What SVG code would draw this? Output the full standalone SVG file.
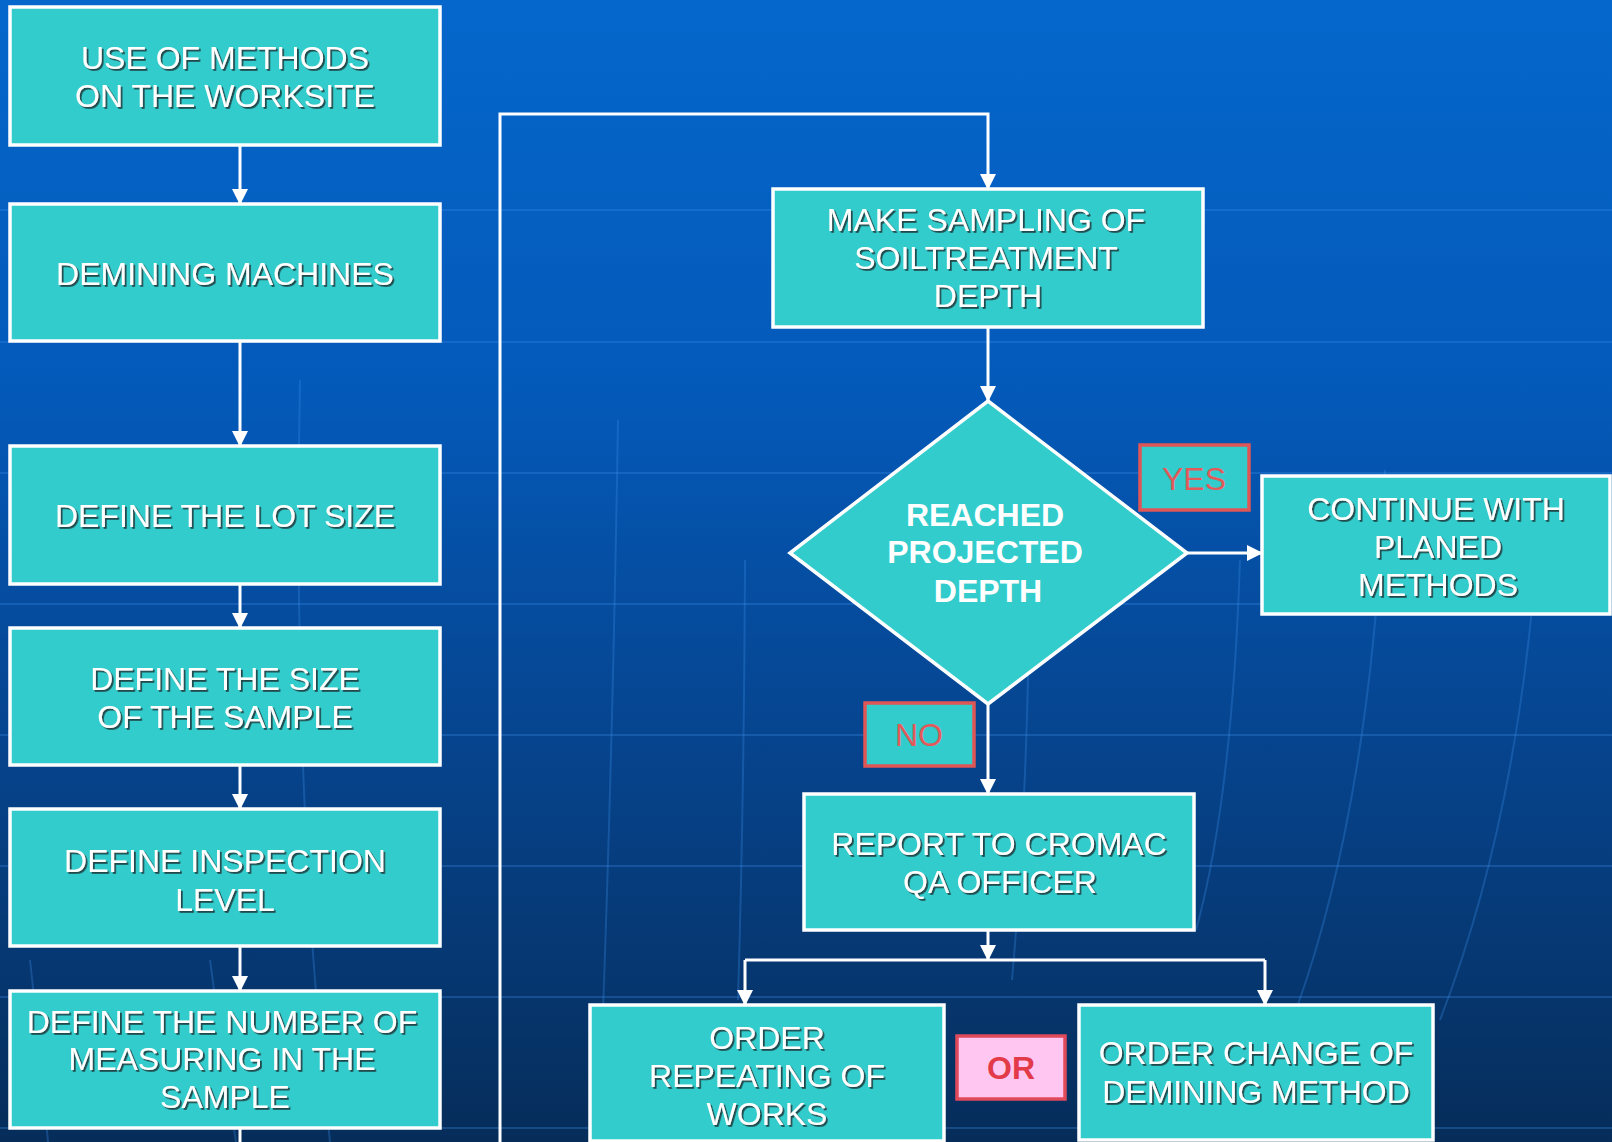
<svg xmlns="http://www.w3.org/2000/svg" width="1612" height="1142" viewBox="0 0 1612 1142">
<defs>
<linearGradient id="bg" x1="0" y1="0" x2="0" y2="1">
<stop offset="0" stop-color="#0567cc"/>
<stop offset="0.35" stop-color="#0459b8"/>
<stop offset="0.65" stop-color="#06448e"/>
<stop offset="1" stop-color="#062d5a"/>
</linearGradient>
<filter id="sh" x="-10%" y="-30%" width="120%" height="160%">
<feDropShadow dx="1.8" dy="1.8" stdDeviation="0.4" flood-color="#1e3a3c" flood-opacity="0.9"/>
</filter>
<marker id="ah" markerUnits="userSpaceOnUse" markerWidth="16" markerHeight="16" viewBox="0 0 16 16" refX="15" refY="8" orient="auto">
<path d="M0,0 L16,8 L0,16 Z" fill="#ffffff"/>
</marker>
<style>
.box{fill:#33cccc;stroke:#ffffff;stroke-width:3.5}
.tag{fill:#33cccc;stroke:#e05555;stroke-width:3.5}
.tagor{fill:#ffc6f2;stroke:#e04a5a;stroke-width:3.5}
.t{font-family:"Liberation Sans",Arial,sans-serif;font-size:32px;fill:#ffffff;text-anchor:middle;filter:url(#sh)}
.tb{font-family:"Liberation Sans",Arial,sans-serif;font-size:32px;font-weight:bold;fill:#ffffff;text-anchor:middle}
.tr{font-family:"Liberation Sans",Arial,sans-serif;font-size:32px;fill:#e35a5a;text-anchor:middle}
.trb{font-family:"Liberation Sans",Arial,sans-serif;font-size:32px;font-weight:bold;fill:#e23a48;text-anchor:middle}
.c{fill:none;stroke:#ffffff;stroke-width:3}
.g{fill:none;stroke:#3a8ee8;stroke-width:2;opacity:0.3}
</style>
</defs>
<rect x="0" y="0" width="1612" height="1142" fill="url(#bg)"/>
<g id="background-grid">
<path class="g" d="M0,210 H1612 M0,342 H1612 M0,473 H1612 M0,604 H1612 M0,735 H1612 M0,866 H1612 M0,997 H1612 M0,1128 H1612"/>
<path class="g" d="M300,380 Q292,800 330,1142"/>
<path class="g" d="M618,420 Q612,800 598,1142"/>
<path class="g" d="M745,560 Q744,800 738,1000"/>
<path class="g" d="M1030,560 Q1028,800 1012,980"/>
<path class="g" d="M1240,560 Q1232,800 1196,930"/>
<path class="g" d="M1385,470 Q1372,800 1296,1010"/>
<path class="g" d="M1540,500 Q1525,800 1440,1020"/>
<path class="g" d="M30,960 Q40,1050 48,1142 M210,960 Q222,1050 236,1142"/>
</g>
<g id="connectors">
<line class="c" x1="240" y1="145" x2="240" y2="204" marker-end="url(#ah)"/>
<line class="c" x1="240" y1="341" x2="240" y2="446" marker-end="url(#ah)"/>
<line class="c" x1="240" y1="584" x2="240" y2="628" marker-end="url(#ah)"/>
<line class="c" x1="240" y1="765" x2="240" y2="809" marker-end="url(#ah)"/>
<line class="c" x1="240" y1="946" x2="240" y2="991" marker-end="url(#ah)"/>
<line class="c" x1="240" y1="1128" x2="240" y2="1142"/>
<path class="c" d="M500,1142 V114 H988 V189" marker-end="url(#ah)"/>
<line class="c" x1="988" y1="327" x2="988" y2="401" marker-end="url(#ah)"/>
<line class="c" x1="1187" y1="553" x2="1262" y2="553" marker-end="url(#ah)"/>
<line class="c" x1="988" y1="704" x2="988" y2="794" marker-end="url(#ah)"/>
<line class="c" x1="988" y1="930" x2="988" y2="960" marker-end="url(#ah)"/>
<line class="c" x1="745" y1="960" x2="1265" y2="960"/>
<line class="c" x1="745" y1="960" x2="745" y2="1005" marker-end="url(#ah)"/>
<line class="c" x1="1265" y1="960" x2="1265" y2="1005" marker-end="url(#ah)"/>
</g>
<g id="n1"><rect class="box" x="10" y="7" width="430" height="138"/><text class="t" x="225" y="69">USE OF METHODS</text><text class="t" x="225" y="107">ON THE WORKSITE</text></g>
<g id="n2"><rect class="box" x="10" y="204" width="430" height="137"/><text class="t" x="225" y="285">DEMINING MACHINES</text></g>
<g id="n3"><rect class="box" x="10" y="446" width="430" height="138"/><text class="t" x="225" y="527">DEFINE THE LOT SIZE</text></g>
<g id="n4"><rect class="box" x="10" y="628" width="430" height="137"/><text class="t" x="225" y="690">DEFINE THE SIZE</text><text class="t" x="225" y="728">OF THE SAMPLE</text></g>
<g id="n5"><rect class="box" x="10" y="809" width="430" height="137"/><text class="t" x="225" y="872">DEFINE INSPECTION</text><text class="t" x="225" y="911">LEVEL</text></g>
<g id="n6"><rect class="box" x="10" y="991" width="430" height="137"/><text class="t" x="222" y="1033">DEFINE THE NUMBER OF</text><text class="t" x="222" y="1070">MEASURING IN THE</text><text class="t" x="225" y="1108">SAMPLE</text></g>
<g id="n7"><rect class="box" x="773" y="189" width="430" height="138"/><text class="t" x="986" y="231">MAKE SAMPLING OF</text><text class="t" x="986" y="269">SOILTREATMENT</text><text class="t" x="988" y="307">DEPTH</text></g>
<g id="n8"><polygon class="box" points="988,401 1187,553 988,704 790,553"/><text class="tb" x="985" y="526">REACHED</text><text class="tb" x="985" y="563">PROJECTED</text><text class="tb" x="988" y="602">DEPTH</text></g>
<g id="n9"><rect class="tag" x="1140" y="445" width="109" height="65"/><text class="tr" x="1194" y="490">YES</text></g>
<g id="n10"><rect class="box" x="1262" y="476" width="348" height="138"/><text class="t" x="1436" y="520">CONTINUE WITH</text><text class="t" x="1438" y="558">PLANED</text><text class="t" x="1438" y="596">METHODS</text></g>
<g id="n11"><rect class="tag" x="865" y="703" width="109" height="63"/><text class="tr" x="919" y="746">NO</text></g>
<g id="n12"><rect class="box" x="804" y="794" width="390" height="136"/><text class="t" x="999" y="855">REPORT TO CROMAC</text><text class="t" x="1000" y="893">QA OFFICER</text></g>
<g id="n13"><rect class="box" x="590" y="1005" width="354" height="136"/><text class="t" x="767" y="1049">ORDER</text><text class="t" x="767" y="1087">REPEATING OF</text><text class="t" x="767" y="1125">WORKS</text></g>
<g id="n14"><rect class="tagor" x="957" y="1036" width="108" height="63"/><text class="trb" x="1011" y="1079">OR</text></g>
<g id="n15"><rect class="box" x="1079" y="1005" width="354" height="135"/><text class="t" x="1256" y="1064">ORDER CHANGE OF</text><text class="t" x="1256" y="1103">DEMINING METHOD</text></g>
</svg>
